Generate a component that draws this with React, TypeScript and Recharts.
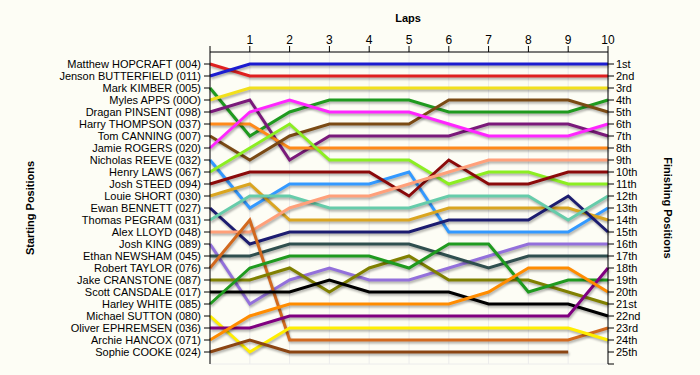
import React from 'react';
import { LineChart, Line, XAxis, YAxis, CartesianGrid } from 'recharts';

const laps = [0, 1, 2, 3, 4, 5, 6, 7, 8, 9, 10];

const drivers = [
  'Matthew HOPCRAFT (004)',
  'Jenson BUTTERFIELD (011)',
  'Mark KIMBER (005)',
  'Myles APPS (00O)',
  'Dragan PINSENT (098)',
  'Harry THOMPSON (037)',
  'Tom CANNING (007)',
  'Jamie ROGERS (020)',
  'Nicholas REEVE (032)',
  'Henry LAWS (067)',
  'Josh STEED (094)',
  'Louie SHORT (030)',
  'Ewan BENNETT (027)',
  'Thomas PEGRAM (031)',
  'Alex LLOYD (048)',
  'Josh KING (089)',
  'Ethan NEWSHAM (045)',
  'Robert TAYLOR (076)',
  'Jake CRANSTONE (087)',
  'Scott CANSDALE (017)',
  'Harley WHITE (085)',
  'Michael SUTTON (080)',
  'Oliver EPHREMSEN (036)',
  'Archie HANCOX (071)',
  'Sophie COOKE (024)',
];

const hopcraft = [1, 2, 2, 2, 2, 2, 2, 2, 2, 2, 2];
const butterfield = [2, 1, 1, 1, 1, 1, 1, 1, 1, 1, 1];
const kimber = [3, 7, 5, 4, 4, 4, 5, 5, 5, 5, 4];
const apps = [4, 3, 3, 3, 3, 3, 3, 3, 3, 3, 3];
const pinsent = [5, 4, 9, 7, 7, 7, 7, 6, 6, 6, 7];
const thompson = [6, 6, 8, 8, 8, 8, 8, 8, 8, 8, 8];
const canning = [7, 9, 7, 6, 6, 6, 4, 4, 4, 4, 5];
const rogers = [8, 5, 4, 5, 5, 5, 6, 7, 7, 7, 6];
const reeve = [9, 13, 11, 11, 11, 10, 15, 15, 15, 15, 13];
const laws = [10, 8, 6, 9, 9, 9, 11, 10, 10, 11, 11];
const steed = [11, 10, 10, 10, 10, 12, 9, 11, 11, 10, 10];
const short = [12, 11, 14, 14, 14, 14, 13, 13, 13, 13, 14];
const bennett = [13, 16, 15, 15, 15, 15, 14, 14, 14, 12, 15];
const pegram = [14, 12, 12, 13, 13, 13, 12, 12, 12, 14, 12];
const lloyd = [15, 15, 13, 12, 12, 11, 10, 9, 9, 9, 9];
const king = [16, 21, 19, 18, 19, 19, 18, 17, 16, 16, 16];
const newsham = [17, 17, 16, 16, 16, 16, 17, 18, 17, 17, 17];
const taylor = [18, 14, 24, 24, 24, 24, 24, 24, 24, 24, 23];
const cranstone = [19, 19, 18, 20, 18, 17, 19, 19, 19, 20, 21];
const cansdale = [20, 20, 20, 19, 20, 20, 20, 21, 21, 21, 22];
const white = [21, 18, 17, 17, 17, 18, 16, 16, 20, 19, 19];
const sutton = [22, 25, 23, 23, 23, 23, 23, 23, 23, 23, 24];
const ephremsen = [23, 23, 22, 22, 22, 22, 22, 22, 22, 22, 18];
const hancox = [24, 22, 21, 21, 21, 21, 21, 20, 18, 18, 20];
const cooke = [25, 24, 25, 25, 25, 25, 25, 25, 25, 25, null];

const series = [
  hopcraft, butterfield, kimber, apps, pinsent, thompson, canning, rogers,
  reeve, laws, steed, short, bennett, pegram, lloyd, king, newsham, taylor,
  cranstone, cansdale, white, sutton, ephremsen, hancox, cooke,
];

const colors = [
  '#e02020', '#1c1cd0', '#1f9a1f', '#f2e01c', '#7a1a7a', '#ff8a1a', '#7a4a14',
  '#ff26ff', '#3399ff', '#8cee22', '#8b0a0a', '#daa520', '#1c1c70', '#66ccaa',
  '#ffa07a', '#9370db', '#2f4f4f', '#d2691e', '#808000', '#000000', '#1f9a1f',
  '#ffee00', '#800080', '#ff8c00', '#8b4513',
];

const finishLabels = [
  '1st', '2nd', '3rd', '4th', '5th', '6th', '7th', '8th', '9th', '10th',
  '11th', '12th', '13th', '14th', '15th', '16th', '17th', '18th', '19th',
  '20th', '21st', '22nd', '23rd', '24th', '25th',
];

const positions = drivers.map((_, i) => i + 1);
const rightTicks = [...positions, 26];

const data = laps.map((lap, li) => {
  const row: Record<string, number | null> = { lap };
  series.forEach((s, si) => {
    row['d' + si] = s[li];
  });
  return row;
});

const font = '"Liberation Sans", Arial, sans-serif';

export default function App() {
  return (
    <div
      style={{
        position: 'absolute',
        left: 0,
        top: 0,
        width: 700,
        height: 375,
        background: '#fdfdf5',
        fontFamily: font,
      }}
    >
      <style>{`.recharts-line-curve{filter:drop-shadow(1px 2px 1px rgba(0,0,0,0.3));}`}</style>
      <LineChart
        width={700}
        height={375}
        data={data}
        margin={{ top: 0, right: 6, bottom: 11, left: 8 }}
      >
        <CartesianGrid vertical horizontal stroke="#ececec" />
        <XAxis
          dataKey="lap"
          type="number"
          orientation="top"
          domain={[0, 10]}
          ticks={laps}
          tickFormatter={(v: number) => (v === 0 ? '' : String(v))}
          height={52}
          tickSize={6}
          stroke="#000"
          tick={{ fill: '#000', fontSize: 12, fontFamily: font }}
        />
        <YAxis
          yAxisId="left"
          type="number"
          domain={[0, 26]}
          reversed
          ticks={positions}
          interval={0}
          width={202}
          tickSize={6}
          tickMargin={3}
          stroke="#000"
          tickFormatter={(v: number) => drivers[v - 1] || ''}
          tick={{ fill: '#000', fontSize: 11, fontFamily: font }}
        />
        <YAxis
          yAxisId="right"
          orientation="right"
          type="number"
          domain={[0, 26]}
          reversed
          ticks={rightTicks}
          interval={0}
          width={86}
          tickSize={6}
          tickMargin={2}
          stroke="#000"
          tickFormatter={(v: number) => finishLabels[v - 1] || ''}
          tick={{ fill: '#000', fontSize: 11, fontFamily: font }}
        />
        {series.map((_, si) => (
          <Line
            key={si}
            yAxisId={si === 0 ? 'right' : 'left'}
            type="linear"
            dataKey={'d' + si}
            stroke={colors[si]}
            strokeWidth={3}
            dot={false}
            isAnimationActive={false}
            connectNulls={false}
          />
        ))}
      </LineChart>
      <div
        style={{
          position: 'absolute',
          left: 388,
          top: 12,
          width: 40,
          textAlign: 'center',
          fontSize: 11,
          fontWeight: 'bold',
        }}
      >
        Laps
      </div>
      <div
        style={{
          position: 'absolute',
          left: 30,
          top: 208,
          transform: 'translate(-50%, -50%) rotate(-90deg)',
          whiteSpace: 'nowrap',
          fontSize: 11,
          fontWeight: 'bold',
        }}
      >
        Starting Positions
      </div>
      <div
        style={{
          position: 'absolute',
          left: 668,
          top: 208,
          transform: 'translate(-50%, -50%) rotate(90deg)',
          whiteSpace: 'nowrap',
          fontSize: 11,
          fontWeight: 'bold',
        }}
      >
        Finishing Positions
      </div>
    </div>
  );
}
